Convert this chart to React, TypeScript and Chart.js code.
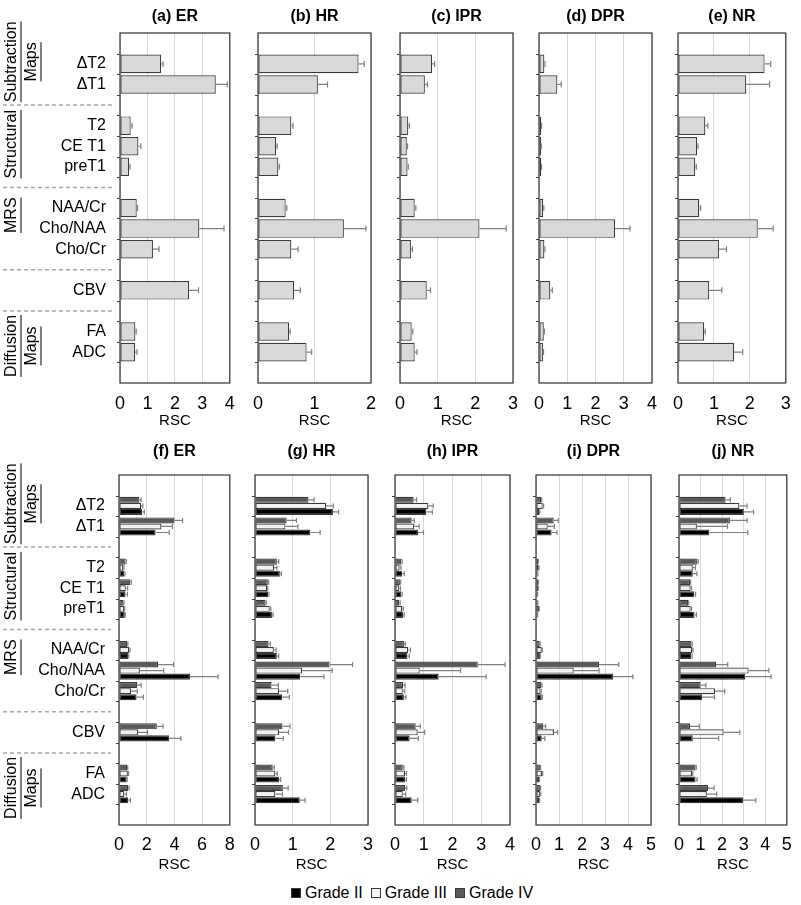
import { useEffect, useRef } from 'react';
import { Chart, registerables } from 'chart.js';

Chart.register(...registerables);

const FONT = '"Liberation Sans", Arial, Helvetica, sans-serif';
Chart.defaults.font.family = FONT;
Chart.defaults.color = '#000';

// ---------- categories (spacer slots are empty strings) ----------
const slotLabels = ['', 'ΔT2', 'ΔT1', '', 'T2', 'CE T1', 'preT1', '', 'NAA/Cr', 'Cho/NAA', 'Cho/Cr', '', 'CBV', '', 'FA', 'ADC', ''];

const groupLabels = [
  { lines: ['Subtraction', 'Maps'], at: 1.4 },
  { lines: ['Structural'], at: 5.4 },
  { lines: ['MRS'], at: 8.85 },
  { lines: ['Diffusion', 'Maps'], at: 15.2 },
];

// ---------- top row (all grades) ----------
const erAll = [1.50, 3.49, 0.39, 0.67, 0.33, 0.61, 2.89, 1.20, 2.52, 0.56, 0.55];
const erAllErr = [0.07, 0.42, 0.05, 0.09, 0.04, 0.03, 0.90, 0.22, 0.34, 0.03, 0.07];
const hrAll = [1.78, 1.06, 0.59, 0.32, 0.36, 0.49, 1.52, 0.59, 0.64, 0.55, 0.86];
const hrAllErr = [0.10, 0.17, 0.03, 0.02, 0.02, 0.02, 0.39, 0.12, 0.11, 0.02, 0.09];
const iprAll = [0.85, 0.66, 0.22, 0.18, 0.20, 0.39, 2.11, 0.29, 0.71, 0.31, 0.39];
const iprAllErr = [0.07, 0.07, 0.03, 0.02, 0.02, 0.03, 0.71, 0.04, 0.10, 0.03, 0.06];
const dprAll = [0.19, 0.65, 0.08, 0.07, 0.08, 0.15, 2.69, 0.19, 0.40, 0.17, 0.14];
const dprAllErr = [0.02, 0.14, 0.01, 0.01, 0.01, 0.02, 0.53, 0.02, 0.07, 0.02, 0.02];
const nrAll = [2.41, 1.90, 0.76, 0.53, 0.48, 0.59, 2.22, 1.14, 0.87, 0.73, 1.56];
const nrAllErr = [0.17, 0.65, 0.07, 0.03, 0.03, 0.04, 0.43, 0.21, 0.35, 0.03, 0.24];

// ---------- bottom row (by grade) ----------
const erIV = [1.48, 4.00, 0.47, 0.82, 0.33, 0.59, 2.82, 1.32, 2.73, 0.59, 0.66];
const erIVErr = [0.12, 0.59, 0.05, 0.07, 0.03, 0.05, 1.13, 0.28, 0.45, 0.04, 0.07];
const erIII = [1.60, 3.06, 0.31, 0.49, 0.38, 0.73, 1.51, 0.87, 1.39, 0.64, 0.38];
const erIIIErr = [0.12, 0.80, 0.05, 0.14, 0.03, 0.07, 1.72, 0.45, 0.68, 0.05, 0.16];
const erII = [1.67, 2.64, 0.38, 0.47, 0.42, 0.66, 5.13, 1.27, 3.62, 0.56, 0.66];
const erIIErr = [0.16, 0.99, 0.05, 0.14, 0.03, 0.05, 2.02, 0.49, 0.85, 0.03, 0.16];

const hrIV = [1.42, 0.84, 0.58, 0.34, 0.28, 0.36, 1.98, 0.44, 0.73, 0.47, 0.74];
const hrIVErr = [0.15, 0.26, 0.05, 0.02, 0.02, 0.05, 0.61, 0.18, 0.20, 0.04, 0.14];
const hrIII = [1.89, 0.81, 0.51, 0.32, 0.39, 0.50, 1.25, 0.64, 0.64, 0.54, 0.54];
const hrIIIErr = [0.19, 0.33, 0.07, 0.02, 0.03, 0.06, 0.80, 0.23, 0.25, 0.05, 0.19];
const hrII = [2.07, 1.47, 0.66, 0.35, 0.45, 0.58, 1.20, 0.72, 0.54, 0.64, 1.19];
const hrIIErr = [0.15, 0.26, 0.04, 0.02, 0.03, 0.05, 0.63, 0.19, 0.21, 0.04, 0.14];

const iprIV = [0.65, 0.58, 0.22, 0.17, 0.15, 0.31, 2.88, 0.28, 0.72, 0.27, 0.35];
const iprIVErr = [0.10, 0.09, 0.03, 0.03, 0.03, 0.05, 0.95, 0.07, 0.16, 0.04, 0.06];
const iprIII = [1.16, 0.67, 0.16, 0.15, 0.25, 0.46, 0.86, 0.27, 0.79, 0.35, 0.27];
const iprIIIErr = [0.17, 0.17, 0.05, 0.04, 0.04, 0.08, 1.42, 0.07, 0.24, 0.05, 0.10];
const iprII = [1.09, 0.80, 0.25, 0.22, 0.28, 0.43, 1.52, 0.31, 0.51, 0.35, 0.58];
const iprIIErr = [0.21, 0.19, 0.07, 0.03, 0.04, 0.07, 1.65, 0.07, 0.30, 0.05, 0.21];

const dprIV = [0.22, 0.77, 0.09, 0.09, 0.07, 0.16, 2.74, 0.23, 0.32, 0.17, 0.17];
const dprIVErr = [0.03, 0.20, 0.01, 0.01, 0.01, 0.02, 0.86, 0.03, 0.10, 0.03, 0.03];
const dprIII = [0.29, 0.51, 0.12, 0.09, 0.13, 0.25, 1.64, 0.20, 0.78, 0.26, 0.17];
const dprIIIErr = [0.04, 0.29, 0.01, 0.01, 0.01, 0.03, 1.10, 0.03, 0.16, 0.03, 0.04];
const dprII = [0.14, 0.68, 0.07, 0.06, 0.06, 0.17, 3.35, 0.25, 0.25, 0.13, 0.13];
const dprIIErr = [0.02, 0.23, 0.01, 0.01, 0.01, 0.02, 0.86, 0.03, 0.14, 0.02, 0.03];

const nrIV = [2.16, 2.36, 0.83, 0.51, 0.42, 0.58, 1.72, 1.00, 0.51, 0.77, 1.35];
const nrIVErr = [0.22, 0.80, 0.06, 0.03, 0.03, 0.03, 0.54, 0.25, 0.43, 0.03, 0.28];
const nrIII = [2.80, 0.83, 0.64, 0.54, 0.54, 0.61, 3.23, 1.67, 2.07, 0.61, 1.29];
const nrIIIErr = [0.36, 1.42, 0.12, 0.04, 0.04, 0.04, 0.94, 0.45, 0.75, 0.03, 0.46];
const nrII = [3.01, 1.41, 0.64, 0.71, 0.72, 0.57, 3.07, 1.07, 0.64, 0.77, 2.97];
const nrIIErr = [0.45, 1.78, 0.19, 0.06, 0.09, 0.04, 1.20, 0.58, 1.20, 0.07, 0.59];

const gradeNames = ['Grade II', 'Grade III', 'Grade IV'];

// ---------- styles ----------
const C_ALL = '#d9d9d9';
const C_IV = '#595959';
const C_III = '#f2f2f2';
const C_II = '#000000';
const C_EDGE = '#3a3a3a';
const C_ERR = '#808080';
const C_GRID = '#d9d9d9';

function expand(vals: number[]): (number | null)[] {
  let k = 0;
  return slotLabels.map((l) => (l === '' ? null : vals[k++]));
}

type DS = { label: string; values: number[]; errors: number[]; color: string };

type PanelSpec = {
  title: string;
  row: 0 | 1;
  plotLeft: number;
  plotWidth: number;
  max: number;
  step: number;
  showY: boolean;
  padRight: number;
  sets: DS[];
};

const ROW = [
  { canvasTop: 0, canvasHeight: 435, plotTop: 33, plotBottom: 383, titleCenter: 17, tickCenter: 404, axisTitleCenter: 421, cat: 0.9, cap: 3 },
  { canvasTop: 440, canvasHeight: 440, plotTop: 475, plotBottom: 825, titleCenter: 452, tickCenter: 845, axisTitleCenter: 865, cat: 0.88, cap: 2.5 },
];

const one = (v: number[], e: number[]): DS[] => [{ label: 'All', values: v, errors: e, color: C_ALL }];
const three = (iv: number[], ive: number[], iii: number[], iiie: number[], ii: number[], iie: number[]): DS[] => [
  { label: gradeNames[2], values: iv, errors: ive, color: C_IV },
  { label: gradeNames[1], values: iii, errors: iiie, color: C_III },
  { label: gradeNames[0], values: ii, errors: iie, color: C_II },
];

const panels: PanelSpec[] = [
  { title: '(a) ER', row: 0, plotLeft: 120, plotWidth: 113, max: 4, step: 1, showY: true, padRight: 12, sets: one(erAll, erAllErr) },
  { title: '(b) HR', row: 0, plotLeft: 258, plotWidth: 113, max: 2, step: 1, showY: false, padRight: 16, sets: one(hrAll, hrAllErr) },
  { title: '(c) IPR', row: 0, plotLeft: 400, plotWidth: 113, max: 3, step: 1, showY: false, padRight: 16, sets: one(iprAll, iprAllErr) },
  { title: '(d) DPR', row: 0, plotLeft: 539, plotWidth: 113, max: 4, step: 1, showY: false, padRight: 16, sets: one(dprAll, dprAllErr) },
  { title: '(e) NR', row: 0, plotLeft: 678, plotWidth: 113, max: 3, step: 1, showY: false, padRight: 10, sets: one(nrAll, nrAllErr) },
  { title: '(f) ER', row: 1, plotLeft: 119, plotWidth: 113, max: 8, step: 2, showY: true, padRight: 12, sets: three(erIV, erIVErr, erIII, erIIIErr, erII, erIIErr) },
  { title: '(g) HR', row: 1, plotLeft: 255, plotWidth: 113, max: 3, step: 1, showY: false, padRight: 16, sets: three(hrIV, hrIVErr, hrIII, hrIIIErr, hrII, hrIIErr) },
  { title: '(h) IPR', row: 1, plotLeft: 395, plotWidth: 115, max: 4, step: 1, showY: false, padRight: 16, sets: three(iprIV, iprIVErr, iprIII, iprIIIErr, iprII, iprIIErr) },
  { title: '(i) DPR', row: 1, plotLeft: 536, plotWidth: 115, max: 5, step: 1, showY: false, padRight: 16, sets: three(dprIV, dprIVErr, dprIII, dprIIIErr, dprII, dprIIErr) },
  { title: '(j) NR', row: 1, plotLeft: 679, plotWidth: 116, max: 5, step: 1, showY: false, padRight: 6, sets: three(nrIV, nrIVErr, nrIII, nrIIIErr, nrII, nrIIErr) },
];

const PAD_LEFT = 16;
const TITLE_LH = 16 * 1.2;
const TICK_LH = 18 * 1.2;
const AXT_LH = 15 * 1.2;

function Panel({ spec }: { spec: PanelSpec }) {
  const ref = useRef<HTMLCanvasElement>(null);
  const row = ROW[spec.row];
  const left = spec.showY ? 0 : spec.plotLeft - PAD_LEFT;
  const width = (spec.showY ? spec.plotLeft : PAD_LEFT) + spec.plotWidth + spec.padRight;
  const height = row.canvasHeight;

  useEffect(() => {
    const canvas = ref.current!;
    const plotTopRel = row.plotTop - row.canvasTop;
    const plotBottomRel = row.plotBottom - row.canvasTop;
    const titleCenterRel = row.titleCenter - row.canvasTop;
    const titlePadTop = titleCenterRel - TITLE_LH / 2;
    const titlePadBottom = plotTopRel - titlePadTop - TITLE_LH;
    const xHeight = height - plotBottomRel;
    const tickPad = row.tickCenter - row.plotBottom - TICK_LH / 2;
    const axtPadBottom = row.canvasTop + height - row.axisTitleCenter - AXT_LH / 2;

    const errorPlugin = {
      id: 'errorBars',
      afterDatasetsDraw(chart: any) {
        const ctx = chart.ctx;
        const xs = chart.scales.x;
        ctx.save();
        ctx.strokeStyle = C_ERR;
        ctx.lineWidth = 1.2;
        chart.data.datasets.forEach((ds: any, di: number) => {
          const meta = chart.getDatasetMeta(di);
          meta.data.forEach((el: any, j: number) => {
            const v = ds.data[j];
            const e = ds.errors[j];
            if (v == null || e == null) return;
            const x0 = xs.getPixelForValue(v);
            const x1 = xs.getPixelForValue(v + e);
            const y = el.y;
            ctx.beginPath();
            ctx.moveTo(x0, y);
            ctx.lineTo(x1, y);
            ctx.moveTo(x1, y - row.cap);
            ctx.lineTo(x1, y + row.cap);
            ctx.stroke();
          });
        });
        ctx.restore();
      },
    };

    const framePlugin = {
      id: 'frame',
      afterDraw(chart: any) {
        const ctx = chart.ctx;
        const a = chart.chartArea;
        const n = slotLabels.length;
        const slotH = (a.bottom - a.top) / n;
        ctx.save();
        // boundary tick marks on the category axis
        ctx.strokeStyle = '#404040';
        ctx.lineWidth = 1;
        for (let k = 1; k < n; k++) {
          const y = Math.round(a.top + k * slotH) + 0.5;
          ctx.beginPath();
          ctx.moveTo(a.left - 3, y);
          ctx.lineTo(a.left, y);
          ctx.stroke();
        }
        // plot frame
        ctx.strokeStyle = '#404040';
        ctx.lineWidth = 1.3;
        ctx.strokeRect(a.left, a.top, a.right - a.left, a.bottom - a.top);

        if (spec.showY) {
          // dashed separators between groups
          ctx.strokeStyle = '#a6a6a6';
          ctx.lineWidth = 1.5;
          ctx.setLineDash([4, 3]);
          slotLabels.forEach((l, i) => {
            if (l !== '' || i === 0 || i === n - 1) return;
            const y = a.top + (i + 0.5) * slotH;
            ctx.beginPath();
            ctx.moveTo(3, y);
            ctx.lineTo(a.left - 8, y);
            ctx.stroke();
          });
          ctx.setLineDash([]);
          // rotated, underlined group labels
          ctx.fillStyle = '#000';
          ctx.strokeStyle = '#000';
          ctx.lineWidth = 1;
          ctx.font = `16px ${FONT}`;
          ctx.textAlign = 'center';
          ctx.textBaseline = 'middle';
          groupLabels.forEach((g) => {
            const y = a.top + g.at * slotH;
            g.lines.forEach((t, li) => {
              const x = 12 + li * 20;
              ctx.save();
              ctx.translate(x, y);
              ctx.rotate(-Math.PI / 2);
              ctx.fillText(t, 0, 0);
              const w = ctx.measureText(t).width;
              ctx.beginPath();
              ctx.moveTo(-w / 2, 9);
              ctx.lineTo(w / 2, 9);
              ctx.stroke();
              ctx.restore();
            });
          });
        }
        ctx.restore();
      },
    };

    const chart = new Chart(canvas, {
      type: 'bar',
      data: {
        labels: slotLabels,
        datasets: spec.sets.map((s) => ({
          label: s.label,
          data: expand(s.values),
          errors: expand(s.errors),
          backgroundColor: s.color,
          borderColor: C_EDGE,
          borderWidth: 1.2,
          borderSkipped: false,
          categoryPercentage: row.cat,
          barPercentage: 1,
        })) as any,
      },
      options: {
        indexAxis: 'y',
        animation: false,
        responsive: false,
        maintainAspectRatio: false,
        layout: { padding: { left: spec.showY ? 0 : PAD_LEFT, right: spec.padRight, top: 0, bottom: 0 } },
        plugins: {
          legend: { display: false },
          tooltip: { enabled: false },
          title: {
            display: true,
            text: spec.title,
            fullSize: false,
            color: '#000',
            font: { size: 16, weight: 'bold', lineHeight: 1.2, family: FONT },
            padding: { top: titlePadTop, bottom: titlePadBottom },
          },
        },
        scales: {
          x: {
            type: 'linear',
            min: 0,
            max: spec.max,
            border: { display: false },
            grid: { color: C_GRID, lineWidth: 1, drawTicks: false },
            ticks: { stepSize: spec.step, padding: tickPad, color: '#000', font: { size: 18, lineHeight: 1.2, family: FONT } },
            title: {
              display: true,
              text: 'RSC',
              color: '#000',
              font: { size: 15, lineHeight: 1.2, family: FONT },
              padding: { top: 0, bottom: axtPadBottom },
            },
            afterFit: (s: any) => {
              s.height = xHeight;
            },
          },
          y: {
            type: 'category',
            display: spec.showY,
            border: { display: false },
            grid: { display: false, drawTicks: false },
            ticks: { autoSkip: false, padding: 14, color: '#000', font: { size: 16, lineHeight: 1.2, family: FONT } },
            afterFit: (s: any) => {
              if (spec.showY) s.width = spec.plotLeft;
            },
          },
        },
      } as any,
      plugins: [errorPlugin, framePlugin],
    });
    return () => chart.destroy();
  }, []);

  return (
    <canvas
      ref={ref}
      width={width}
      height={height}
      style={{ position: 'absolute', left, top: row.canvasTop, width, height }}
    />
  );
}

const legendItems = [
  { name: gradeNames[0], color: C_II },
  { name: gradeNames[1], color: C_III },
  { name: gradeNames[2], color: C_IV },
];

export default function App() {
  return (
    <div style={{ position: 'absolute', left: 0, top: 0, width: 801, height: 905, overflow: 'hidden', background: '#fff', fontFamily: FONT }}>
      {panels.map((p) => (
        <Panel key={p.title} spec={p} />
      ))}
      <div
        style={{
          position: 'absolute',
          left: 291,
          top: 883,
          display: 'flex',
          alignItems: 'center',
          fontSize: 16,
          lineHeight: '20px',
          color: '#000',
          whiteSpace: 'nowrap',
        }}
      >
        {legendItems.map((it) => (
          <span key={it.name} style={{ display: 'inline-flex', alignItems: 'center', marginRight: 8 }}>
            <span
              style={{
                display: 'inline-block',
                width: 8,
                height: 8,
                background: it.color,
                border: '1px solid #3a3a3a',
                marginRight: 4,
              }}
            />
            {it.name}
          </span>
        ))}
      </div>
    </div>
  );
}
